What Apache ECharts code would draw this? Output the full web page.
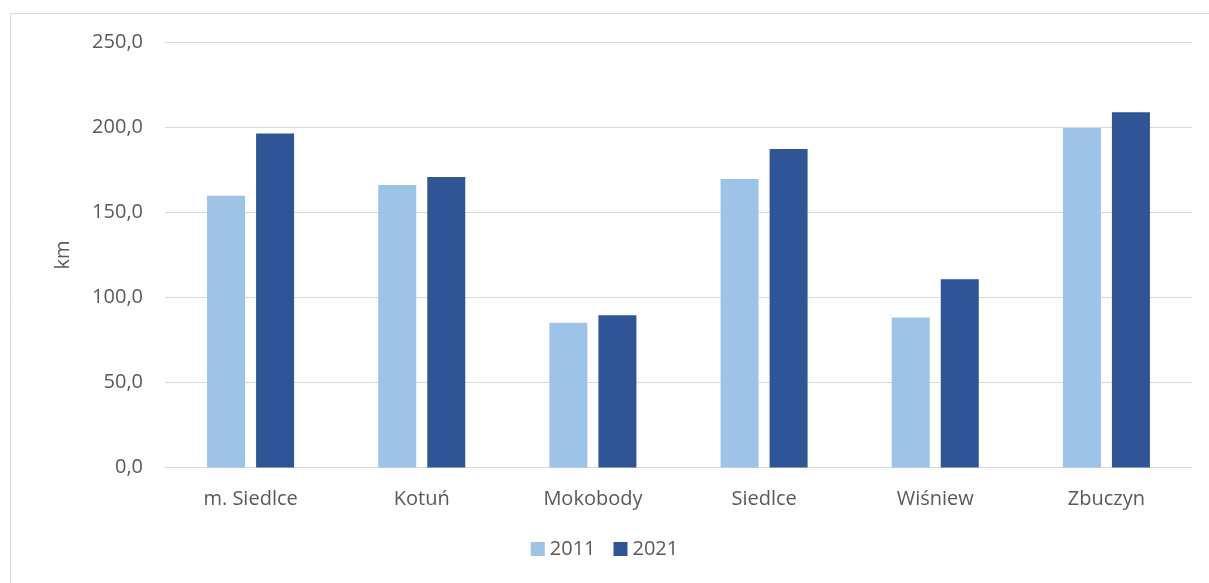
<!DOCTYPE html>
<html><head><meta charset="utf-8">
<script src="https://cdn.jsdelivr.net/npm/echarts@6/dist/echarts.min.js"></script>
<style>html,body{margin:0;padding:0;background:#fff}#c{width:1209px;height:583px}</style>
</head><body><div id="c"></div>
<script>
const categories = ['m. Siedlce', 'Kotuń', 'Mokobody', 'Siedlce', 'Wiśniew', 'Zbuczyn'];
const values2011 = [159.8, 166.2, 85.2, 169.7, 88.2, 199.7];
const values2021 = [196.4, 170.9, 89.5, 187.4, 110.7, 208.9];
const seriesNames = ['2011', '2021'];
const font = 'Open Sans, Liberation Sans, sans-serif';
const txt = '#595959';
const chart = echarts.init(document.getElementById('c'));
chart.setOption({
  animation: false,
  graphic: [{type:'rect', shape:{x:10.5, y:13.5, width:1220, height:600}, style:{fill:null, stroke:'#d9d9d9', lineWidth:1}, silent:true}],
  grid: {left:165, right:17, top:42.5, bottom:115.5, containLabel:false},
  legend: {
    data: seriesNames, bottom: 19, left: 'center', itemWidth: 14, itemHeight: 14, itemGap: 18,
    icon: 'rect', textStyle: {color: txt, fontSize: 20, fontFamily: font}
  },
  xAxis: {
    type: 'category', data: categories,
    axisLine: {show:true, lineStyle:{color:'#d9d9d9', width:1}},
    axisTick: {show:false},
    axisLabel: {color: txt, fontSize: 20, fontFamily: font, margin: 22}
  },
  yAxis: {
    type: 'value', min: 0, max: 250, interval: 50,
    name: 'km', nameLocation: 'middle', nameGap: 92, nameRotate: 90,
    nameTextStyle: {color: txt, fontSize: 20, fontFamily: font},
    axisLine: {show:false}, axisTick: {show:false},
    splitLine: {lineStyle:{color:'#d9d9d9', width:1}},
    axisLabel: {color: txt, fontSize: 20, fontFamily: font, margin: 22,
      formatter: v => v.toFixed(1).replace('.', ',')}
  },
  series: [
    {name: seriesNames[0], type:'bar', data: values2011, barWidth: 38, barGap: '29%',
     itemStyle:{color:'#9dc3e6'}},
    {name: seriesNames[1], type:'bar', data: values2021, barWidth: 38,
     itemStyle:{color:'#2f5597'}}
  ]
});
</script></body></html>
